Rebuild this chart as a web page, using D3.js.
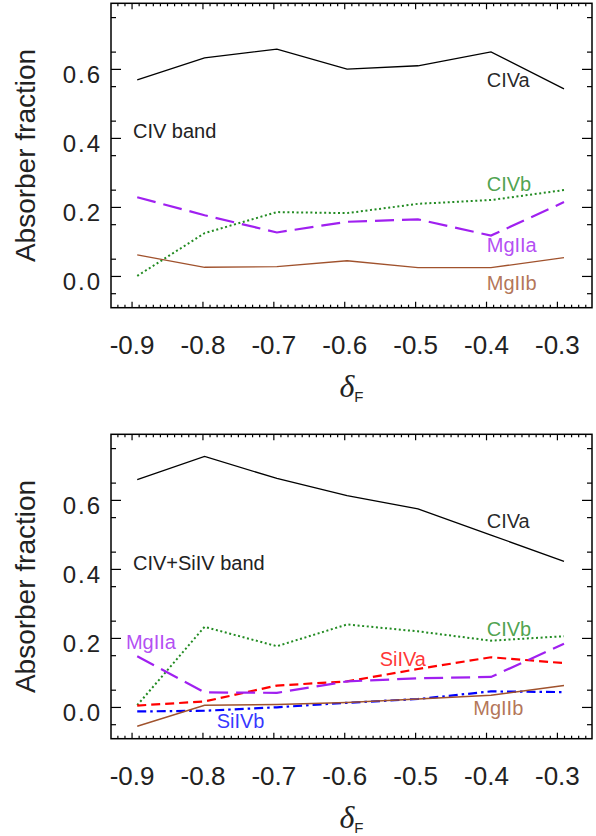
<!DOCTYPE html>
<html>
<head>
<meta charset="utf-8">
<script src="https://cdn.jsdelivr.net/npm/d3@7"></script>
<style>
  body { margin: 0; background: #fff; }
  text { font-family: "Liberation Sans", Arial, Helvetica, sans-serif; }
</style>
</head>
<body>
<div id="chart"></div>
<script>
// ---- data ----
const deltaF = [-0.892, -0.797, -0.695, -0.596, -0.496, -0.393, -0.290];

// top panel: CIV band
const civaTop  = [0.568, 0.632, 0.657, 0.599, 0.609, 0.649, 0.542];
const civbTop  = [0.000, 0.124, 0.185, 0.182, 0.209, 0.220, 0.249];
const mgiiaTop = [0.228, 0.176, 0.126, 0.157, 0.164, 0.117, 0.214];
const mgiibTop = [0.061, 0.025, 0.027, 0.044, 0.024, 0.024, 0.053];

// bottom panel: CIV+SiIV band
const civaBot  = [0.659, 0.726, 0.662, 0.612, 0.574, 0.498, 0.422];
const civbBot  = [0.005, 0.232, 0.176, 0.239, 0.219, 0.192, 0.205];
const siivaBot = [0.004, 0.016, 0.062, 0.074, 0.110, 0.144, 0.127];
const mgiiaBot = [0.147, 0.042, 0.041, 0.074, 0.083, 0.087, 0.183];
const siivbBot = [-0.013, -0.011, -0.001, 0.012, 0.023, 0.045, 0.043];
const mgiibBot = [-0.056, 0.005, 0.007, 0.013, 0.023, 0.034, 0.062];

const xTicks = [-0.9, -0.8, -0.7, -0.6, -0.5, -0.4, -0.3];
const yTicks = [0.0, 0.2, 0.4, 0.6];

// ---- layout ----
const W = 596, H = 836;
const left = 111, right = 592, panelH = 304.4;
const xDomain = [-0.929, -0.2505], yDomain = [-0.092, 0.79];

const colors = {
  civa: "#000000", civb: "#228B22", mgiia: "#A020F0",
  mgiib: "#A0522D", siiva: "#FF0000", siivb: "#0000FF"
};
const styles = {
  civa:  { dash: null,        width: 1.3 },
  civb:  { dash: "2,2.6",     width: 2 },
  mgiia: { dash: "19,8",      width: 2.2 },
  mgiib: { dash: null,        width: 1.4 },
  siiva: { dash: "9,5",       width: 2.2 },
  siivb: { dash: "9,4,2.5,4", width: 2.2 }
};

const panels = [
  {
    top: 3.3,
    title: "CIV band", titlePos: [-0.898, 0.401],
    series: [
      { key: "civa",  values: civaTop },
      { key: "civb",  values: civbTop },
      { key: "mgiia", values: mgiiaTop },
      { key: "mgiib", values: mgiibTop }
    ],
    labels: [
      { key: "civa",  text: "CIVa",  pos: [-0.399, 0.548] },
      { key: "civb",  text: "CIVb",  pos: [-0.399, 0.247] },
      { key: "mgiia", text: "MgIIa", pos: [-0.399, 0.069] },
      { key: "mgiib", text: "MgIIb", pos: [-0.399, -0.041] }
    ]
  },
  {
    top: 434.3,
    title: "CIV+SiIV band", titlePos: [-0.898, 0.398],
    series: [
      { key: "civa",  values: civaBot },
      { key: "civb",  values: civbBot },
      { key: "siiva", values: siivaBot },
      { key: "mgiia", values: mgiiaBot },
      { key: "siivb", values: siivbBot },
      { key: "mgiib", values: mgiibBot }
    ],
    labels: [
      { key: "civa",  text: "CIVa",  pos: [-0.399, 0.519] },
      { key: "civb",  text: "CIVb",  pos: [-0.399, 0.207] },
      { key: "siiva", text: "SiIVa", pos: [-0.550, 0.118] },
      { key: "mgiia", text: "MgIIa", pos: [-0.908, 0.169] },
      { key: "siivb", text: "SiIVb", pos: [-0.780, -0.061] },
      { key: "mgiib", text: "MgIIb", pos: [-0.418, -0.022] }
    ]
  }
];

const svg = d3.select("#chart").append("svg")
  .attr("width", W).attr("height", H);

const x = d3.scaleLinear().domain(xDomain).range([left, right]);

// minor ticks
const xMinor = d3.range(-92, -25).map(i => i / 100).filter(v => Math.abs(Math.round(v * 10) - v * 10) > 1e-6);
const yMinor = [-0.05, 0.05, 0.15, 0.25, 0.35, 0.45, 0.55, 0.65, 0.75];

const fmt = d => d.toFixed(1);

panels.forEach(p => {
  const bottom = p.top + panelH;
  const y = d3.scaleLinear().domain(yDomain).range([bottom, p.top]);
  const g = svg.append("g");

  // lines
  p.series.forEach(s => {
    const line = d3.line().x((d, i) => x(deltaF[i])).y(d => y(d));
    g.append("path")
      .datum(s.values)
      .attr("d", line)
      .attr("fill", "none")
      .attr("stroke", colors[s.key])
      .attr("stroke-width", styles[s.key].width)
      .attr("stroke-dasharray", styles[s.key].dash);
  });

  // axes: major + minor ticks on all four sides
  const tickStyle = sel => sel.select(".domain").remove();

  g.append("g").attr("transform", `translate(0,${bottom})`)
    .call(d3.axisBottom(x).tickValues(xTicks).tickSizeInner(-6).tickSizeOuter(0)
      .tickPadding(28).tickFormat(fmt))
    .call(tickStyle)
    .call(a => a.selectAll("text").attr("font-size", 26).attr("fill", "#222")
      .attr("font-family", "Liberation Sans, Arial, sans-serif"));
  g.append("g").attr("transform", `translate(0,${bottom})`)
    .call(d3.axisBottom(x).tickValues(xMinor).tickSizeInner(-3).tickSizeOuter(0).tickFormat(""))
    .call(tickStyle);
  g.append("g").attr("transform", `translate(0,${p.top})`)
    .call(d3.axisTop(x).tickValues(xTicks).tickSizeInner(-6).tickSizeOuter(0).tickFormat(""))
    .call(tickStyle);
  g.append("g").attr("transform", `translate(0,${p.top})`)
    .call(d3.axisTop(x).tickValues(xMinor).tickSizeInner(-3).tickSizeOuter(0).tickFormat(""))
    .call(tickStyle);

  g.append("g").attr("transform", `translate(${left},0)`)
    .call(d3.axisLeft(y).tickValues(yTicks).tickSizeInner(-10).tickSizeOuter(0)
      .tickPadding(9).tickFormat(fmt))
    .call(tickStyle)
    .call(a => a.selectAll("text").attr("font-size", 24).attr("dy", "0.55em").attr("fill", "#222")
      .attr("letter-spacing", 2).attr("font-family", "Liberation Sans, Arial, sans-serif"));
  g.append("g").attr("transform", `translate(${left},0)`)
    .call(d3.axisLeft(y).tickValues(yMinor).tickSizeInner(-5).tickSizeOuter(0).tickFormat(""))
    .call(tickStyle);
  g.append("g").attr("transform", `translate(${right},0)`)
    .call(d3.axisRight(y).tickValues(yTicks).tickSizeInner(-10).tickSizeOuter(0).tickFormat(""))
    .call(tickStyle);
  g.append("g").attr("transform", `translate(${right},0)`)
    .call(d3.axisRight(y).tickValues(yMinor).tickSizeInner(-5).tickSizeOuter(0).tickFormat(""))
    .call(tickStyle);

  g.selectAll(".tick line").attr("stroke", "#000").attr("stroke-width", 1.2);

  // frame
  g.append("rect")
    .attr("x", left).attr("y", p.top)
    .attr("width", right - left).attr("height", panelH)
    .attr("fill", "none").attr("stroke", "#000").attr("stroke-width", 1.5);

  // y axis title
  g.append("text")
    .attr("transform", `translate(35,${(p.top + bottom) / 2}) rotate(-90)`)
    .attr("text-anchor", "middle")
    .attr("font-size", 28)
    .attr("fill", "#222")
    .text("Absorber fraction");

  // x axis title: delta_F
  const xt = g.append("text")
    .attr("x", (left + right) / 2)
    .attr("y", bottom + 89)
    .attr("text-anchor", "middle")
    .attr("fill", "#222");
  xt.append("tspan")
    .attr("font-family", "Liberation Serif, Times New Roman, serif")
    .attr("font-style", "italic")
    .attr("font-size", 32)
    .text("δ");
  xt.append("tspan")
    .attr("font-size", 15)
    .attr("dy", 5)
    .text("F");

  // panel title
  g.append("text")
    .attr("x", x(p.titlePos[0])).attr("y", y(p.titlePos[1]))
    .attr("font-size", 20).attr("fill", "#222")
    .text(p.title);

  // series labels
  p.labels.forEach(l => {
    g.append("text")
      .attr("x", x(l.pos[0])).attr("y", y(l.pos[1]))
      .attr("font-size", 20)
      .attr("fill", colors[l.key])
      .attr("fill-opacity", l.key === "civa" ? 0.85 : 0.8)
      .text(l.text);
  });
});
</script>
</body>
</html>
